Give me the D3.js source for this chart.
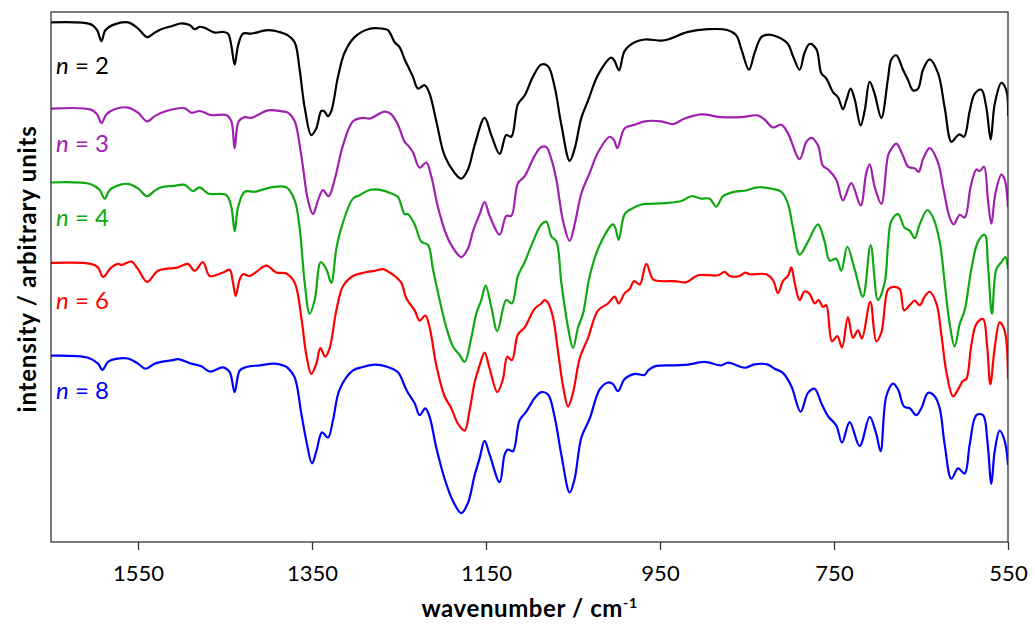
<!DOCTYPE html>
<html>
<head>
<meta charset="utf-8">
<script src="https://cdn.jsdelivr.net/npm/d3@7"></script>
<style>
  body { margin: 0; background: #fff; }
  svg { display: block; }
</style>
</head>
<body>
<script>
// IR spectra, [wavenumber (cm-1), intensity (arb. units)], stacked as plotted
var n2 = [[1650,1518],[1604,1512],[1597,1495],[1592,1463],[1587.5,1495],[1577,1512],[1561.5,1518],[1550,1500],[1539.6,1475],[1530.8,1488],[1523.2,1498],[1509.8,1508],[1500.2,1515],[1490.6,1510],[1484.8,1498],[1479.1,1505],[1473.4,1502],[1461.9,1488],[1452.3,1490],[1446.5,1485],[1442.7,1450],[1438.9,1395],[1435,1450],[1429.3,1485],[1419.7,1485],[1400.6,1495],[1385.2,1488],[1377.6,1480],[1369.9,1460],[1364.2,1380],[1358.4,1270],[1350.8,1190],[1345,1210],[1339.3,1260],[1336.2,1260],[1331.6,1245],[1327.8,1260],[1320.1,1360],[1312.5,1430],[1301,1475],[1285.6,1498],[1270.3,1500],[1262.7,1495],[1255,1460],[1249.2,1445],[1243.5,1410],[1239.7,1390],[1234,1360],[1228.2,1325],[1220.5,1335],[1214.8,1310],[1207.1,1230],[1197.6,1130],[1186.1,1080],[1178.4,1063],[1170.7,1090],[1163.1,1160],[1151.6,1240],[1143.9,1190],[1134.3,1135],[1126.7,1190],[1120.9,1185],[1113.3,1280],[1105.6,1305],[1096,1360],[1086.4,1395],[1078.7,1390],[1071.1,1330],[1063.4,1220],[1053.8,1115],[1048.1,1150],[1040.4,1240],[1032.7,1290],[1021.2,1365],[1005.9,1415],[1002.1,1405],[997.1,1378],[990.6,1435],[979.1,1460],[967.6,1468],[948.5,1465],[940.8,1468],[917.8,1490],[894.8,1498],[871.8,1495],[862.3,1480],[856.5,1440],[847.7,1380],[841.2,1430],[833.5,1475],[825.9,1482],[814.4,1475],[802.9,1455],[797.2,1420],[789.5,1380],[783.8,1430],[778,1455],[770.3,1440],[764.6,1370],[758.9,1355],[751.2,1315],[745.4,1300],[739.7,1265],[735.9,1290],[730.9,1325],[726.3,1295],[719.4,1218],[714.8,1260],[709,1345],[703.3,1310],[695.6,1240],[687.9,1355],[684.1,1410],[678.3,1422],[670.7,1380],[664.9,1350],[659.2,1320],[653.4,1325],[647.7,1380],[640,1410],[630.4,1370],[622.8,1270],[615.1,1170],[609.4,1185],[605.5,1192],[600.5,1185],[594,1260],[588.3,1310],[580.6,1322],[574.9,1270],[569.9,1177],[565.3,1280],[557.6,1342],[551.9,1320],[550,1245]];

var n3 = [[1650,1267],[1604,1264],[1597,1250],[1592,1225],[1586.4,1250],[1577,1265],[1561.5,1270],[1550,1255],[1539.6,1230],[1530.8,1245],[1523.2,1255],[1509.8,1265],[1496.3,1268],[1488.7,1255],[1479.1,1260],[1465.7,1248],[1448.5,1248],[1442.7,1230],[1438.9,1152],[1434.3,1230],[1427.4,1242],[1419.7,1240],[1400.6,1262],[1381.4,1258],[1377.6,1255],[1369.9,1230],[1362.3,1130],[1354.6,1000],[1348.9,960],[1343.1,1000],[1337.4,1030],[1330.9,1012],[1324,1060],[1314.4,1160],[1302.9,1230],[1291.4,1240],[1283.7,1238],[1266.5,1258],[1258.8,1250],[1251.2,1220],[1243.5,1170],[1239.7,1160],[1234,1140],[1226.3,1095],[1218.6,1110],[1212.9,1070],[1205.2,980],[1195.6,900],[1186.1,855],[1178.4,835],[1170.7,860],[1165,910],[1157.3,960],[1151.6,995],[1145.8,955],[1134.3,900],[1126.7,955],[1120.9,955],[1113.3,1050],[1105.6,1070],[1094,1130],[1086.4,1155],[1080.6,1155],[1074.9,1120],[1069.1,1060],[1061.5,940],[1053.8,882],[1048.1,930],[1040.4,1020],[1030.8,1080],[1021.2,1140],[1007.8,1185],[1002.8,1175],[999,1152],[990.6,1210],[979.1,1220],[967.6,1230],[948.5,1230],[935.1,1222],[921.7,1238],[902.5,1250],[879.5,1242],[856.5,1242],[837.4,1247],[829.7,1235],[820.2,1212],[810.6,1220],[802.9,1195],[789.5,1120],[781.8,1170],[776.1,1182],[768.4,1160],[762.7,1100],[756.9,1090],[747.4,1060],[739.7,1000],[730.1,1050],[719.4,985],[712.9,1080],[709,1105],[703.3,1040],[695.6,990],[687.9,1130],[684.1,1150],[678.3,1165],[670.7,1130],[664.9,1098],[657.2,1093],[652.6,1083],[647.7,1120],[640,1152],[630.4,1110],[624.7,1040],[617,950],[612.4,930],[605.5,958],[599.8,950],[592.9,1040],[586.4,1090],[582.5,1085],[577.6,1098],[573,1000],[569.1,932],[564.5,1020],[557.6,1075],[553.8,1060],[550,980]];

var n4 = [[1650,1052],[1604,1047],[1594,1030],[1588.3,1005],[1582.5,1030],[1571,1045],[1561.5,1048],[1550,1035],[1539.6,1012],[1530.8,1028],[1523.2,1038],[1509.8,1042],[1496.3,1045],[1486.8,1027],[1479.1,1038],[1469.5,1020],[1448.5,1015],[1442.7,980],[1438.9,910],[1435,980],[1427.4,1025],[1415.9,1025],[1396.7,1038],[1379.5,1038],[1369.9,1000],[1364.2,920],[1358.4,760],[1352.7,670],[1346.9,710],[1340,820],[1333.5,800],[1327.8,760],[1322,860],[1316.3,920],[1302.9,1005],[1295.2,1015],[1283.7,1030],[1270.3,1030],[1258.8,1020],[1251.2,1010],[1243.5,960],[1239.7,960],[1232,930],[1224.4,880],[1216.7,870],[1211,800],[1203.3,710],[1195.6,630],[1188,575],[1180.3,550],[1174.6,530],[1166.9,600],[1161.2,670],[1155.4,710],[1150.4,752],[1143.9,690],[1137,620],[1126.7,710],[1120.2,700],[1113.3,780],[1105.6,820],[1096,880],[1086.4,930],[1080.6,938],[1074.9,895],[1069.1,880],[1063.4,760],[1055.7,630],[1050,570],[1044.2,630],[1038.5,670],[1030.8,780],[1019.3,870],[1004,930],[1001.3,920],[997.5,885],[990.6,960],[983,975],[971.4,988],[963.8,990],[944.6,992],[925.5,998],[914,1012],[902.5,1005],[892.9,1005],[885.3,982],[877.6,1012],[864.2,1025],[852.7,1028],[837.4,1038],[820.1,1033],[810.6,1025],[802.9,990],[797.2,920],[789.5,842],[779.9,880],[768.4,930],[760.8,880],[755,825],[747.4,830],[741.6,795],[734.7,865],[726.3,800],[716.7,720],[707.9,870],[699.5,710],[691.8,760],[687.9,870],[684.1,940],[676.4,960],[668.8,920],[663,912],[657.2,890],[651.5,930],[642.7,972],[636.2,950],[628.5,880],[622.8,760],[617,640],[611.3,575],[605.5,640],[599.8,680],[592.1,800],[584.4,880],[576.8,900],[573,810],[568.4,670],[563.4,800],[557.6,820],[553,835],[550,800]];

var n6 = [[1650,818],[1604,815],[1596,805],[1590.2,777],[1580.6,805],[1573,815],[1568.4,812],[1557.7,822],[1550,800],[1539.6,763],[1527,795],[1509.8,803],[1504,805],[1492.5,815],[1484.8,795],[1475.3,820],[1467.6,780],[1452.3,790],[1444.6,798],[1440.8,760],[1437.7,722],[1433.1,770],[1429.3,785],[1421.6,780],[1414,792],[1402.5,810],[1391,790],[1379.5,787],[1369.9,760],[1362.3,660],[1356.5,550],[1350.8,495],[1345,525],[1340.4,570],[1334.7,545],[1329.7,570],[1322,680],[1314.4,750],[1302.9,780],[1289.5,790],[1278,795],[1268.4,800],[1260.7,790],[1255,780],[1247.3,760],[1241.6,715],[1232,680],[1226.3,650],[1219.8,665],[1214.8,630],[1207.1,520],[1197.6,430],[1189.9,395],[1182.2,350],[1174.6,330],[1168.8,390],[1163.1,470],[1157.3,520],[1151.6,557],[1145.8,510],[1137,442],[1130.5,480],[1125.5,545],[1120.2,535],[1113.3,610],[1105.6,630],[1094,685],[1086.4,700],[1082.5,710],[1078.7,702],[1073,660],[1067.2,560],[1061.5,460],[1055.7,400],[1050,440],[1042.3,540],[1032.7,600],[1021.2,680],[1009.7,700],[1002.1,720],[997.5,700],[990.6,730],[984.8,742],[979.8,765],[973.3,755],[965.7,815],[958,770],[948.5,765],[933.2,765],[919.7,762],[906.3,782],[883.3,782],[875.7,792],[870,780],[858.4,780],[852,790],[847,785],[827.8,785],[820.1,768],[814.4,730],[808.7,765],[802.9,780],[799.1,805],[795.2,760],[789.5,710],[783.8,735],[778,728],[772.3,700],[767.7,710],[762.7,690],[758.9,695],[752.3,590],[746.2,605],[740.8,572],[734,660],[728.2,600],[722.4,622],[717.9,598],[708.3,705],[701.4,590],[695.6,615],[687.9,740],[682.2,748],[674.5,742],[669.5,680],[663,695],[657.2,708],[651.5,695],[645.8,720],[640,734],[632.3,700],[626.6,610],[620.8,500],[613.2,430],[607.4,450],[601.7,475],[597.9,480],[592.1,580],[586.4,640],[578.7,655],[574.1,580],[570.3,465],[565.3,570],[559.6,645],[553.8,620],[550,480]];

var n8 = [[1650,548],[1607.5,542],[1596,525],[1591,507],[1584.5,530],[1576.8,538],[1561.5,540],[1550,525],[1541.2,510],[1530.8,525],[1523.2,530],[1509.8,535],[1504,538],[1488.7,525],[1477.2,517],[1467.6,502],[1452.3,514],[1444.6,500],[1438.9,442],[1433.1,505],[1425.5,515],[1410.1,520],[1392.9,525],[1381.4,518],[1377.6,512],[1369.9,485],[1362.3,380],[1356.5,300],[1350,235],[1345,270],[1338.5,325],[1331.6,310],[1325.9,360],[1318.2,450],[1302.9,505],[1291.4,515],[1278,522],[1262.7,515],[1251.2,500],[1243.5,460],[1239.7,440],[1232,410],[1226.3,375],[1219.8,395],[1214.8,370],[1207.1,280],[1197.6,190],[1188,125],[1178.4,90],[1170.7,120],[1163.1,200],[1157.3,250],[1151.6,300],[1145.8,260],[1134.3,180],[1128.6,260],[1124.8,275],[1119,270],[1111.4,360],[1103.7,385],[1094,425],[1086.4,442],[1078.7,435],[1071.1,370],[1063.4,260],[1053.8,150],[1048.1,190],[1040.4,310],[1030.8,365],[1019.3,450],[1009.7,470],[1004,465],[998.3,445],[990.6,480],[979.1,495],[967.6,492],[963.8,505],[956.1,517],[933.2,520],[917.8,522],[898.7,530],[879.5,520],[871.8,528],[852.7,513],[841.2,523],[825.9,522],[818.2,510],[808.7,498],[799.1,460],[788.4,385],[779.9,440],[772.3,452],[764.6,410],[756.9,372],[747.4,345],[740.8,295],[732,355],[720.5,285],[709,370],[701.4,320],[696.4,270],[689.9,430],[682.2,467],[676.4,450],[669.5,400],[663,395],[655.3,375],[649.6,395],[641.9,440],[634.3,430],[628.5,395],[622.8,290],[615.1,190],[607.4,220],[599.8,205],[594,290],[586.4,375],[578.7,375],[573.7,300],[569.1,175],[565.3,270],[559.6,330],[553.8,300],[550,230]];

var labels = ["2", "3", "4", "6", "8"];
var spectra = [n2, n3, n4, n6, n8];
var colors = ["#000000", "#a020b0", "#10a810", "#ff0000", "#0000ff"];
var xTicks = [1550, 1350, 1150, 950, 750, 550];

var width = 1035, height = 633;
var mLeft = 51, mRight = 1008, mTop = 12, mBottom = 542;
var font = "Lato, 'Open Sans', sans-serif";

var x = d3.scaleLinear().domain([1650, 550]).range([mLeft, mRight]);
var y = d3.scaleLinear().domain([6, 1548]).range([mBottom, mTop]);

var svg = d3.select("body").append("svg")
    .attr("width", width)
    .attr("height", height)
    .attr("font-family", font);

var line = d3.line()
    .x(d => x(d[0]))
    .y(d => y(d[1]))
    .curve(d3.curveCatmullRom.alpha(0.5));

svg.append("clipPath").attr("id", "plot")
  .append("rect")
    .attr("x", mLeft).attr("y", mTop)
    .attr("width", mRight - mLeft).attr("height", mBottom - mTop);

svg.append("g")
    .attr("clip-path", "url(#plot)")
  .selectAll("path")
  .data(spectra)
  .join("path")
    .attr("fill", "none")
    .attr("stroke", (d, i) => colors[i])
    .attr("stroke-width", 2.2)
    .attr("stroke-linejoin", "round")
    .attr("d", line);

// frame
svg.append("rect")
    .attr("x", mLeft).attr("y", mTop)
    .attr("width", mRight - mLeft).attr("height", mBottom - mTop)
    .attr("fill", "none")
    .attr("stroke", "#333")
    .attr("stroke-width", 1.3);

var xAxis = svg.append("g")
    .attr("transform", `translate(0,${mBottom})`)
    .call(d3.axisBottom(x).tickValues(xTicks).tickFormat(d3.format("d"))
      .tickSize(8).tickPadding(15).tickSizeOuter(0));
xAxis.select(".domain").remove();
xAxis.selectAll(".tick line").attr("stroke", "#333").attr("stroke-width", 1.3);
xAxis.selectAll(".tick text")
    .attr("font-family", font)
    .attr("font-size", 22)
    .attr("fill", "#000");

// series labels
var labelY = [74, 152, 226, 309, 399];
svg.append("g")
  .selectAll("text")
  .data(labels)
  .join("text")
    .attr("x", 56)
    .attr("y", (d, i) => labelY[i])
    .attr("font-size", 24)
    .attr("fill", (d, i) => colors[i])
    .call(t => t.append("tspan").attr("font-style", "italic").text("n"))
    .call(t => t.append("tspan").text(d => " = " + d));

// axis titles
var xt = svg.append("text")
    .attr("x", (mLeft + mRight) / 2)
    .attr("y", 617)
    .attr("text-anchor", "middle")
    .attr("font-size", 24)
    .attr("font-weight", "bold")
    .attr("letter-spacing", 0.6)
    .text("wavenumber / cm");
xt.append("tspan")
    .attr("dy", -9)
    .attr("font-size", 14)
    .text("-1");

svg.append("text")
    .attr("transform", `translate(36,${(mTop + mBottom) / 2 - 8}) rotate(-90)`)
    .attr("text-anchor", "middle")
    .attr("font-size", 24)
    .attr("font-weight", "bold")
    .attr("letter-spacing", 0.8)
    .text("intensity / arbitrary units");
</script>
</body>
</html>
